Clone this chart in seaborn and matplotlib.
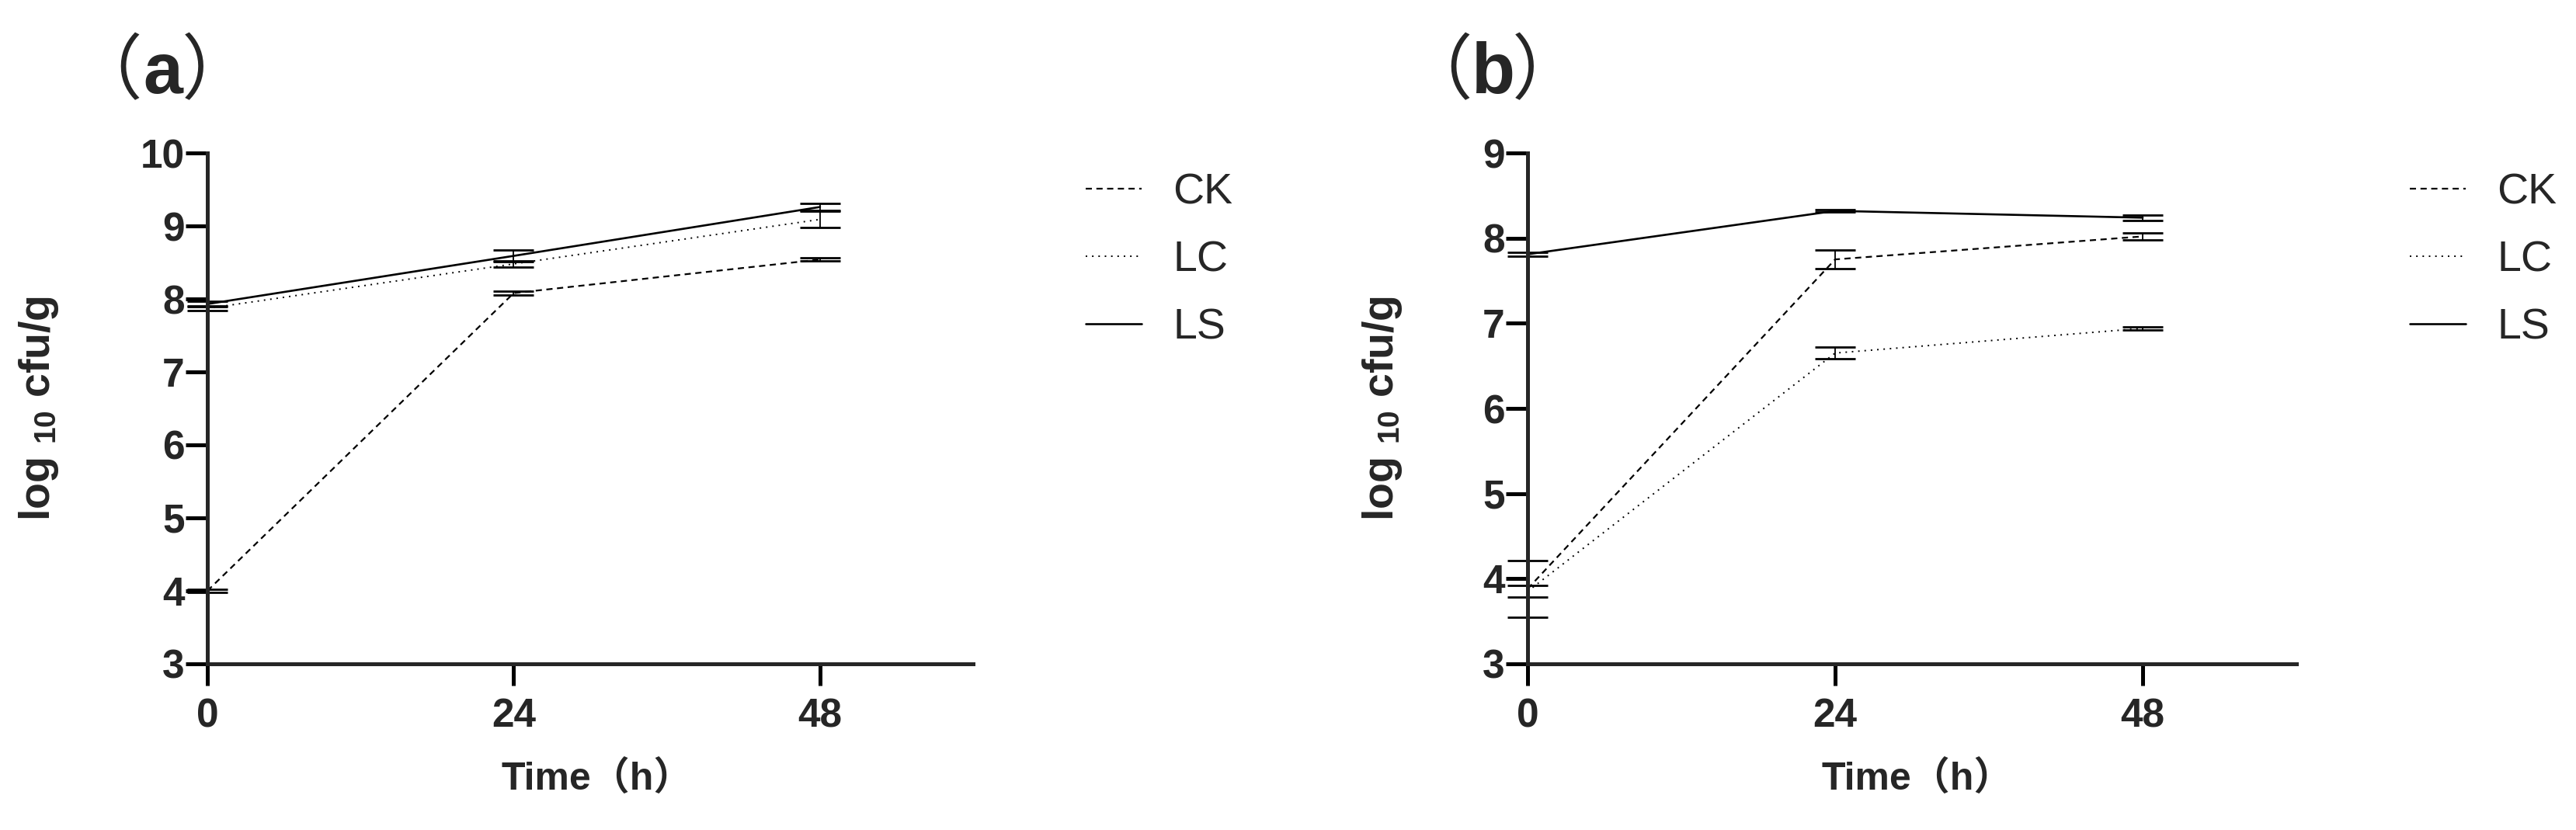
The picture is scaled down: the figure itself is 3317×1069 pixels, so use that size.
import matplotlib
matplotlib.use("Agg")
import matplotlib.pyplot as plt
import pandas as pd
import seaborn as sns

# sampling time (h)
time_h = [0, 24, 48]
groups = ["CK", "LC", "LS"]

# panel (a): log10 cfu/g, mean and error
a_ck = [4.00, 8.08, 8.54]
a_ck_err = [0.02, 0.03, 0.02]
a_lc = [7.87, 8.48, 9.09]
a_lc_err = [0.03, 0.04, 0.11]
a_ls = [7.93, 8.59, 9.26]
a_ls_err = [0.04, 0.08, 0.05]

# panel (b)
b_ck = [3.88, 7.75, 8.02]
b_ck_err = [0.33, 0.11, 0.04]
b_lc = [3.85, 6.65, 6.94]
b_lc_err = [0.07, 0.07, 0.02]
b_ls = [7.81, 8.32, 8.24]
b_ls_err = [0.02, 0.01, 0.03]

x_ticks = [0, 24, 48]
a_yticks = [3, 4, 5, 6, 7, 8, 9, 10]
b_yticks = [3, 4, 5, 6, 7, 8, 9]

sns.set_style("ticks")
plt.rcParams["font.family"] = ["Liberation Sans", "Noto Sans CJK SC"]
plt.rcParams["mathtext.fontset"] = "custom"
plt.rcParams["mathtext.rm"] = "Liberation Sans:bold"
plt.rcParams["mathtext.it"] = "Liberation Sans:bold"
plt.rcParams["mathtext.bf"] = "Liberation Sans:bold"

W, H = 3317, 1069
LATIN = "Liberation Sans"
CJK = "Noto Sans CJK SC"

# line style per group: (linewidth, linestyle)
styles = {
    "CK": (1.6, (0, (3.6, 2.6))),
    "LC": (1.4, (0, (1.0, 3.2))),
    "LS": (1.9, "-"),
}


def px_text(x, y, s, size, bold, family, ha="center"):
    # place text with pixel coordinates measured from the top-left corner
    fig.text(x / W, 1 - y / H, s, fontsize=size, va="baseline", ha=ha,
             fontweight="bold" if bold else "normal", family=family)


def draw_panel(ax, ck, ck_err, lc, lc_err, ls, ls_err, ymax, yticks, label, lab_x, leg_x, dx, dx_title):
    means = {"CK": ck, "LC": lc, "LS": ls}
    errs = {"CK": ck_err, "LC": lc_err, "LS": ls_err}
    for g in groups:
        df = pd.DataFrame({"time": time_h, "value": means[g]})
        lw, lstyle = styles[g]
        sns.lineplot(data=df, x="time", y="value", ax=ax, color="black",
                     linewidth=lw, linestyle=lstyle, label=g, clip_on=False)
        ax.errorbar(time_h, means[g], yerr=errs[g], fmt="none", ecolor="black",
                    elinewidth=1.3, capsize=19, capthick=2.0, clip_on=False)

    ax.set_xlim(0, 60)
    ax.set_ylim(3, ymax)
    ax.set_xticks(x_ticks)
    ax.set_yticks(yticks)
    sns.despine(ax=ax)
    for sp in ["left", "bottom"]:
        ax.spines[sp].set_linewidth(3.6)
    ax.tick_params(axis="both", length=20, width=3.6, color="black")
    ax.tick_params(axis="x", pad=11)
    ax.tick_params(axis="y", pad=1)
    for t in ax.get_xticklabels() + ax.get_yticklabels():
        t.set_fontweight("bold")
        t.set_fontsize(37)

    ax.set_xlabel("")
    ax.set_ylabel(r"log $_{10}$ cfu/g", fontsize=40, fontweight="bold")
    ax.yaxis.set_label_coords(lab_x, 0.5)

    handles, labels = ax.get_legend_handles_labels()
    ax.legend(handles[:3], labels[:3], loc="upper left",
              bbox_to_anchor=(leg_x, 0.792), bbox_transform=fig.transFigure,
              frameon=False, fontsize=40, handlelength=1.3,
              handletextpad=0.72, labelspacing=0.63, borderpad=0,
              borderaxespad=0)

    # x axis title with full-width brackets
    px_text(646 + dx, 1017, "Time（h）", 36, True, [LATIN, CJK], ha="left")

    # panel tag
    px_text(137 + dx_title, 120, "（", 66, False, CJK)
    px_text(210 + dx_title, 120, label, 66, True, LATIN)
    px_text(280 + dx_title, 120, "）", 66, False, CJK)


fig = plt.figure(figsize=(W / 100, H / 100), dpi=100)
ax_a = fig.add_axes([0.0805, 0.2002, 0.2973, 0.6155])
ax_b = fig.add_axes([0.5930, 0.2002, 0.2985, 0.6155])

draw_panel(ax_a, a_ck, a_ck_err, a_lc, a_lc_err, a_ls, a_ls_err,
           10, a_yticks, "a", -0.192, 0.4215, 0, 0)
draw_panel(ax_b, b_ck, b_ck_err, b_lc, b_lc_err, b_ls, b_ls_err,
           9, b_yticks, "b", -0.161, 0.9355, 1700, 1713)

fig.savefig("out.png", dpi=100, facecolor="white")
